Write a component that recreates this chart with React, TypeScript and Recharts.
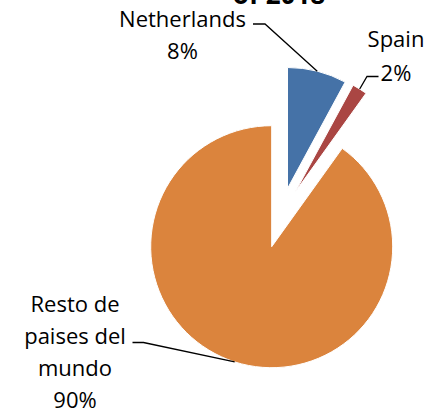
import React from 'react';
import { PieChart, Pie, Cell } from 'recharts';

const categories = ['Netherlands', 'Spain', 'Resto de paises del mundo'];
const shares = [7.9, 2.0, 90.1];
const percentLabels = ['8%', '2%', '90%'];
const labelLines: string[][] = [['Netherlands'], ['Spain'], ['Resto de', 'paises del', 'mundo']];
const titleText = 'of 2018';

const COLORS = ['#4572A7', '#AA4643', '#DB843D'];
const CENTERS = [
  { x: 287.5, y: 188.5 },
  { x: 295.5, y: 191.6 },
  { x: 271.7, y: 246.7 },
];
const RADIUS = 121;
const RAD = Math.PI / 180;
const FONT = '"Open Sans", sans-serif';

// label layout: text center x, first baseline, line gap, leader start (end of horizontal tick)
const LABEL_LAYOUT = [
  { tx: 182.5, ty: 26.5, gap: 32.5, lx0: 253, lx1: 265, ly: 24 },
  { tx: 396, ty: 46.5, gap: 34, lx0: 378.5, lx1: 367, ly: 76.5 },
  { tx: 75, ty: 311.5, gap: 32.2, lx0: 132.5, lx1: 143.5, ly: 342.5 },
];

const data = categories.map((name, i) => ({ name, value: shares[i] }));

const makeLabel = (k: number) => (props: any) => {
  const { cx, cy, midAngle, outerRadius, index } = props;
  if (index !== k) return <g />;
  const L = LABEL_LAYOUT[k];
  const ex = cx + outerRadius * Math.cos(-midAngle * RAD);
  const ey = cy + outerRadius * Math.sin(-midAngle * RAD);
  const lines = [...labelLines[k], percentLabels[k]];
  return (
    <g>
      <polyline
        points={`${L.lx0},${L.ly} ${L.lx1},${L.ly} ${ex},${ey}`}
        fill="none"
        stroke="#000"
        strokeWidth={1.3}
      />
      <text textAnchor="middle" fontFamily={FONT} fontSize={22} fill="#000">
        {lines.map((t, i) => (
          <tspan key={i} x={L.tx} y={L.ty + i * L.gap}>
            {t}
          </tspan>
        ))}
      </text>
    </g>
  );
};

export default function App() {
  return (
    <div style={{ position: 'absolute', left: 0, top: 0, width: 430, height: 414, background: '#fff' }}>
      <PieChart width={430} height={414} margin={{ top: 0, right: 0, bottom: 0, left: 0 }}>
        <text x={279} y={4} textAnchor="middle" fontFamily={FONT} fontWeight="bold" fontSize={26} fill="#000">
          {titleText}
        </text>
        {CENTERS.map((c, k) => (
          <Pie
            key={k}
            data={data}
            dataKey="value"
            nameKey="name"
            cx={c.x}
            cy={c.y}
            innerRadius={0}
            outerRadius={RADIUS}
            startAngle={90}
            endAngle={-270}
            isAnimationActive={false}
            labelLine={false}
            label={makeLabel(k)}
          >
            {data.map((d, i) => (
              <Cell
                key={d.name}
                fill={i === k ? COLORS[i] : 'none'}
                stroke={i === k ? '#fff' : 'none'}
                strokeWidth={1}
              />
            ))}
          </Pie>
        ))}
      </PieChart>
    </div>
  );
}
